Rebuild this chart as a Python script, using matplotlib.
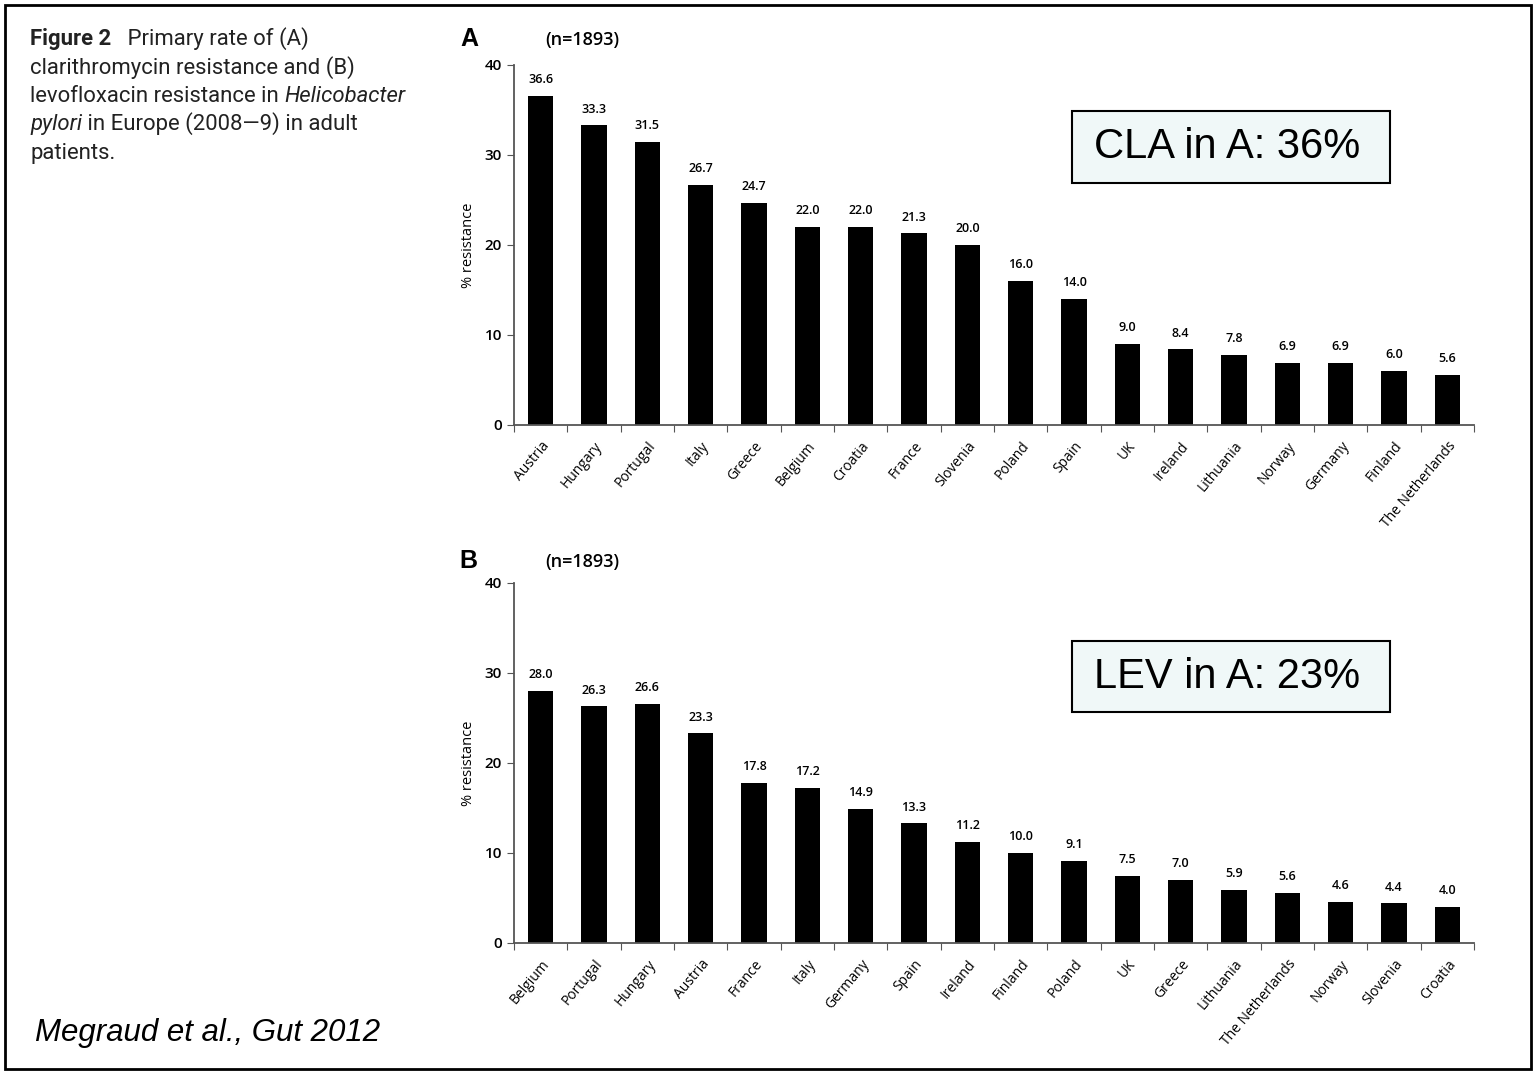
import numpy as np
import matplotlib.pyplot as plt
from matplotlib.patches import Rectangle

W, H = 1536, 1073

# panel A: clarithromycin
cla_countries = ['Austria', 'Hungary', 'Portugal', 'Italy', 'Greece', 'Belgium', 'Croatia',
                 'France', 'Slovenia', 'Poland', 'Spain', 'UK', 'Ireland', 'Lithuania',
                 'Norway', 'Germany', 'Finland', 'The Netherlands']
cla_values = [36.6, 33.3, 31.5, 26.7, 24.7, 22.0, 22.0, 21.3, 20.0, 16.0, 14.0,
              9.0, 8.4, 7.8, 6.9, 6.9, 6.0, 5.6]

# panel B: levofloxacin
lev_countries = ['Belgium', 'Portugal', 'Hungary', 'Austria', 'France', 'Italy', 'Germany',
                 'Spain', 'Ireland', 'Finland', 'Poland', 'UK', 'Greece', 'Lithuania',
                 'The Netherlands', 'Norway', 'Slovenia', 'Croatia']
lev_values = [28.0, 26.3, 26.6, 23.3, 17.8, 17.2, 14.9, 13.3, 11.2, 10.0, 9.1,
              7.5, 7.0, 5.9, 5.6, 4.6, 4.4, 4.0]

yticks = [0, 10, 20, 30, 40]

chart_font = ['Open Sans', 'DejaVu Sans']
cap_font = ['Liberation Sans Narrow', 'Roboto', 'DejaVu Sans']
arial = ['Liberation Sans', 'DejaVu Sans']


def fx(x):
    return x / W


def fy(y):
    return 1 - y / H


fig = plt.figure(figsize=(W / 100, H / 100), dpi=100)


def bar_panel(rect, countries, values):
    ax = fig.add_axes(rect)
    pos = np.arange(len(countries))
    bars = ax.bar(pos, values, width=0.47, color='black')
    for b, v in zip(bars, values):
        ax.annotate(f'{v:.1f}', (b.get_x() + b.get_width() / 2, v),
                    xytext=(0, 7), textcoords='offset points',
                    ha='center', va='bottom', fontsize=9,
                    family=chart_font, fontweight='semibold')
    ax.set_xlim(-0.5, len(countries) - 0.5)
    ax.set_ylim(0, 40)
    ax.set_yticks(yticks)
    ax.set_yticklabels([str(t) for t in yticks], family=chart_font, fontsize=11,
                       fontweight='semibold')
    ax.set_xticks(np.arange(-0.5, len(countries)))
    ax.set_xticklabels([])
    ax.set_xticks(pos, minor=True)
    ax.set_xticklabels(countries, minor=True, rotation=50, ha='right',
                       rotation_mode='anchor', family=chart_font, fontsize=10)
    ax.tick_params(axis='x', which='minor', length=0, pad=10)
    ax.tick_params(axis='both', which='major', length=5, color='#555555')
    for s in ['top', 'right']:
        ax.spines[s].set_visible(False)
    for s in ['left', 'bottom']:
        ax.spines[s].set_color('#555555')
        ax.spines[s].set_linewidth(1.3)
    ax.set_ylabel('% resistance', family=chart_font, fontsize=10.5, labelpad=6)
    return ax


ax_a = bar_panel([fx(514), fy(425), fx(1474) - fx(514), fy(65) - fy(425)],
                 cla_countries, cla_values)
ax_b = bar_panel([fx(514), fy(943), fx(1474) - fx(514), fy(583) - fy(943)],
                 lev_countries, lev_values)

# panel letters and n
fig.text(fx(460), fy(39), 'A', fontsize=18, fontweight='bold', family=arial, va='center')
fig.text(fx(545), fy(40), '(n=1893)', fontsize=13, fontweight='semibold', family=chart_font, va='center')
fig.text(fx(459), fy(561), 'B', fontsize=18, fontweight='bold', family=arial, va='center')
fig.text(fx(545), fy(562), '(n=1893)', fontsize=13, fontweight='semibold', family=chart_font, va='center')

# highlight boxes
for y0, y1, label in [(111, 183, 'CLA in A: 36%'), (641, 712, 'LEV in A: 23%')]:
    fig.patches.append(Rectangle((fx(1072), fy(y1)), fx(1390) - fx(1072), fy(y0) - fy(y1),
                                 transform=fig.transFigure, facecolor='#f0f8f8',
                                 edgecolor='black', linewidth=1.5))
    fig.text(fx(1227), fy((y0 + y1) / 2), label, fontsize=30, family=arial,
             ha='center', va='center')

# caption with mixed styles
caption = [
    [('Figure 2', 'normal', 'bold'), ('   Primary rate of (A)', 'normal', 'normal')],
    [('clarithromycin resistance and (B)', 'normal', 'normal')],
    [('levofloxacin resistance in ', 'normal', 'normal'), ('Helicobacter', 'italic', 'normal')],
    [('pylori', 'italic', 'normal'), (' in Europe (2008\u20149) in adult', 'normal', 'normal')],
    [('patients.', 'normal', 'normal')],
]
renderer = fig.canvas.get_renderer()
for i, parts in enumerate(caption):
    x = 30
    base = 45 + i * 28.4
    for txt, style, weight in parts:
        t = fig.text(fx(x), fy(base), txt, fontsize=15.9, family=cap_font,
                     style=style, fontweight=weight, va='baseline', color='#222222')
        x = t.get_window_extent(renderer).x1

# footer
fig.text(fx(35), fy(1033), 'Megraud et al., Gut 2012', fontsize=22.5, style='italic',
         family=arial, va='center')

# outer frame
fig.patches.append(Rectangle((fx(5), fy(1069)), fx(1531) - fx(5), fy(5) - fy(1069),
                             transform=fig.transFigure, facecolor='none',
                             edgecolor='black', linewidth=2))

fig.savefig('out.png', dpi=100)
